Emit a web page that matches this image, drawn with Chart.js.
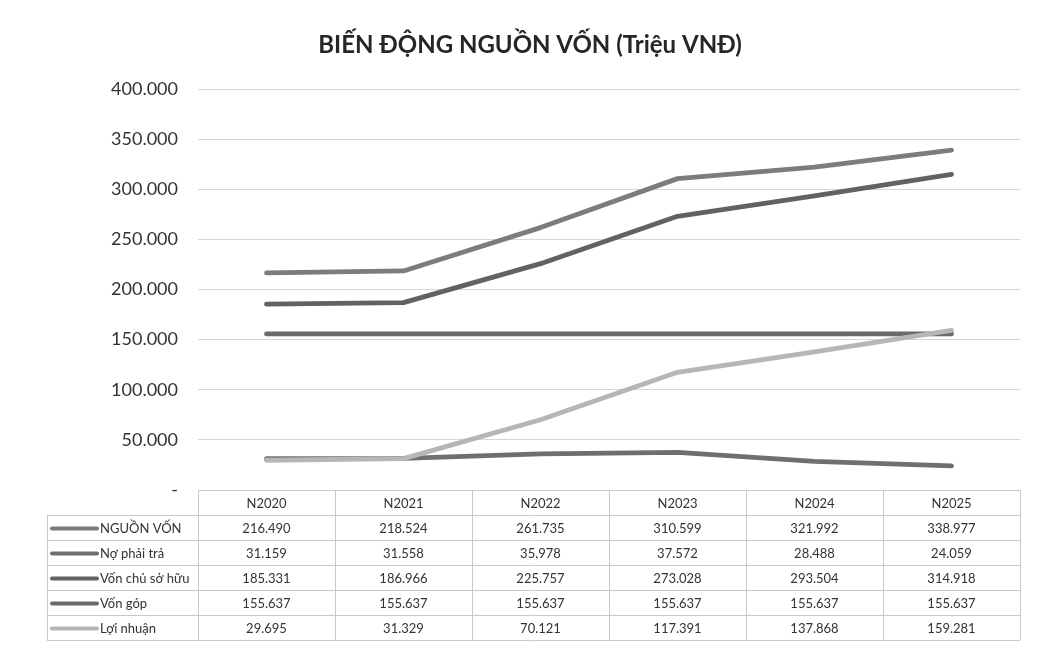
<!DOCTYPE html>
<html><head><meta charset="utf-8">
<script src="https://cdn.jsdelivr.net/npm/chart.js@4"></script>
<style>html,body{margin:0;padding:0;background:#fff}#wrap{width:1048px;height:648px;position:relative}</style>
</head><body><div id="wrap"><canvas id="c"></canvas></div>
<script>
const categories = ['N2020','N2021','N2022','N2023','N2024','N2025'];
const seriesNames = ['NGUỒN VỐN','Nợ phải trả','Vốn chủ sở hữu','Vốn góp','Lợi nhuận'];
const nguonVon    = [216490,218524,261735,310599,321992,338977];
const noPhaiTra   = [31159,31558,35978,37572,28488,24059];
const vonChuSoHuu = [185331,186966,225757,273028,293504,314918];
const vonGop      = [155637,155637,155637,155637,155637,155637];
const loiNhuan    = [29695,31329,70121,117391,137868,159281];
const yTicks = [0,50000,100000,150000,200000,250000,300000,350000,400000];
const titleText = 'BIẾN ĐỘNG NGUỒN VỐN (Triệu VNĐ)';

const seriesValues = [nguonVon,noPhaiTra,vonChuSoHuu,vonGop,loiNhuan];
const seriesColors = ['#7c7c7c','#6f6f6f','#626262','#6a6a6a','#b6b6b6'];
const FONT = 'Lato, "Open Sans", sans-serif';

function fmt(n){
  const s = String(Math.round(Math.abs(n)));
  return s.replace(/\B(?=(\d{3})+(?!\d))/g,'.');
}

const titlePlugin = {
  id:'customTitle',
  afterDraw(chart){
    const ctx = chart.ctx;
    ctx.save();
    ctx.fillStyle = '#262626';
    ctx.font = 'bold 24px '+FONT;
    ctx.textAlign = 'center'; ctx.textBaseline = 'middle';
    ctx.fillText(titleText, 530, 45);
    ctx.restore();
  }
};

const tablePlugin = {
  id:'dataTable',
  afterDraw(chart){
    const ctx = chart.ctx, x = chart.scales.x, area = chart.chartArea;
    const half = (x.getPixelForValue(1)-x.getPixelForValue(0))/2;
    const top = area.bottom, rowH = 25, leftX = 47, labelR = area.left;
    const rightX = x.getPixelForValue(categories.length-1)+half;
    ctx.save();
    ctx.strokeStyle = '#c9c9c9'; ctx.lineWidth = 1;
    ctx.beginPath();
    ctx.moveTo(labelR, top+0.5); ctx.lineTo(rightX, top+0.5);
    for(let r=1;r<=seriesNames.length+1;r++){
      const y = Math.round(top + r*rowH)+0.5;
      ctx.moveTo(leftX, y); ctx.lineTo(rightX, y);
    }
    ctx.moveTo(leftX+0.5, top+rowH); ctx.lineTo(leftX+0.5, top+rowH*(seriesNames.length+1));
    for(let i=0;i<=categories.length;i++){
      const xx = Math.round(x.getPixelForValue(i)-half)+0.5;
      ctx.moveTo(xx, top); ctx.lineTo(xx, top+rowH*(seriesNames.length+1));
    }
    ctx.stroke();
    ctx.fillStyle = '#333';
    ctx.font = '13px '+FONT;
    ctx.textAlign='center'; ctx.textBaseline='middle';
    categories.forEach((c,i)=>ctx.fillText(c, x.getPixelForValue(i), top+rowH/2+1));
    seriesNames.forEach((name,r)=>{
      const cy = top + rowH*(r+1) + rowH/2 + 1;
      ctx.strokeStyle = seriesColors[r]; ctx.lineWidth = 4; ctx.lineCap='round';
      ctx.beginPath(); ctx.moveTo(52, cy); ctx.lineTo(97, cy); ctx.stroke();
      ctx.fillStyle='#333'; ctx.textAlign='left';
      ctx.fillText(name, 100, cy);
      ctx.textAlign='center';
      seriesValues[r].forEach((v,i)=>ctx.fillText(fmt(v), x.getPixelForValue(i), cy));
    });
    ctx.restore();
  }
};

new Chart(document.getElementById('c'),{
  type:'line',
  data:{
    labels:categories,
    datasets:seriesNames.map((n,i)=>({
      label:n, data:seriesValues[i], borderColor:seriesColors[i], backgroundColor:seriesColors[i],
      borderWidth:4.8, pointRadius:0, tension:0, borderCapStyle:'round', borderJoinStyle:'round',
      order: seriesNames.length - i
    }))
  },
  options:{
    responsive:true, maintainAspectRatio:false, animation:false,
    layout:{padding:{left:0,right:28,top:89,bottom:158}},
    plugins:{
      legend:{display:false}, tooltip:{enabled:false}, title:{display:false}
    },
    scales:{
      x:{display:false, offset:true},
      y:{min:0,max:400000,
        afterFit(s){ s.width = 198; },
        afterBuildTicks(s){ s.ticks = yTicks.map(v=>({value:v})); },
        border:{display:false},
        grid:{color:'#d6d6d6', drawTicks:false},
        ticks:{padding:20,color:'#333',font:{family:FONT,size:18},callback:v=> v===0?'-':fmt(v)}
      }
    }
  },
  plugins:[tablePlugin,titlePlugin]
});
</script></body></html>
